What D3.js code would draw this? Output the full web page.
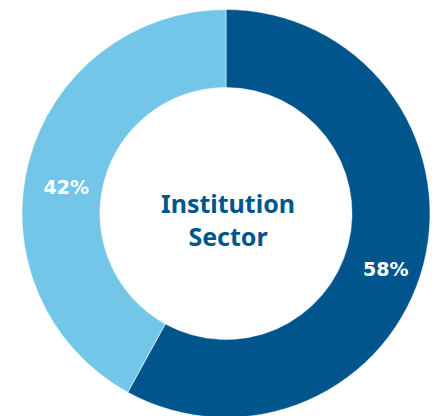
<!DOCTYPE html>
<html>
<head>
<meta charset="utf-8">
<script src="https://cdn.jsdelivr.net/npm/d3@7"></script>
<style>
  body { margin: 0; background: #fff; }
  svg { display: block; }
</style>
</head>
<body>
<div id="chart"></div>
<script>
var sectors = ["Sector A", "Sector B"];
var shares = [58, 42];
var colors = ["#00568C", "#74C6E9"];
var title = ["Institution", "Sector"];

var width = 439,
    height = 416;
var cx = 226, cy = 213.5;
var outer = 204, inner = 126;

var svg = d3.select("#chart").append("svg")
    .attr("width", width)
    .attr("height", height);

var g = svg.append("g")
    .attr("transform", "translate(" + cx + "," + cy + ")");

var pie = d3.pie().sort(null).value(function(d) { return d; });
var arcs = pie(shares);

var arc = d3.arc().innerRadius(inner).outerRadius(outer);
var labelArc = d3.arc().innerRadius(165).outerRadius(165);

var color = d3.scaleOrdinal().domain(sectors).range(colors);

g.selectAll("path.slice")
    .data(arcs)
    .join("path")
    .attr("class", "slice")
    .attr("d", arc)
    .attr("fill", function(d, i) { return color(sectors[i]); })
    .attr("stroke", "#fff")
    .attr("stroke-width", 0.5);

g.selectAll("text.pct")
    .data(arcs)
    .join("text")
    .attr("class", "pct")
    .attr("transform", function(d) {
        var c = labelArc.centroid(d);
        return "translate(" + c[0] + "," + (c[1] + 15) + ")";
    })
    .attr("text-anchor", "middle")
    .attr("dy", "0.36em")
    .style("font-family", "'DejaVu Sans', sans-serif")
    .style("font-weight", "bold")
    .style("font-size", "19px")
    .attr("fill", "#fff")
    .text(function(d) { return d.data + "%"; });

g.selectAll("text.title")
    .data(title)
    .join("text")
    .attr("class", "title")
    .attr("text-anchor", "middle")
    .attr("x", 2)
    .attr("y", function(d, i) { return -0.5 + i * 33; })
    .style("font-family", "'Noto Sans', 'DejaVu Sans', sans-serif")
    .style("font-weight", "bold")
    .style("font-size", "25px")
    .attr("fill", "#00568C")
    .text(function(d) { return d; });
</script>
</body>
</html>
